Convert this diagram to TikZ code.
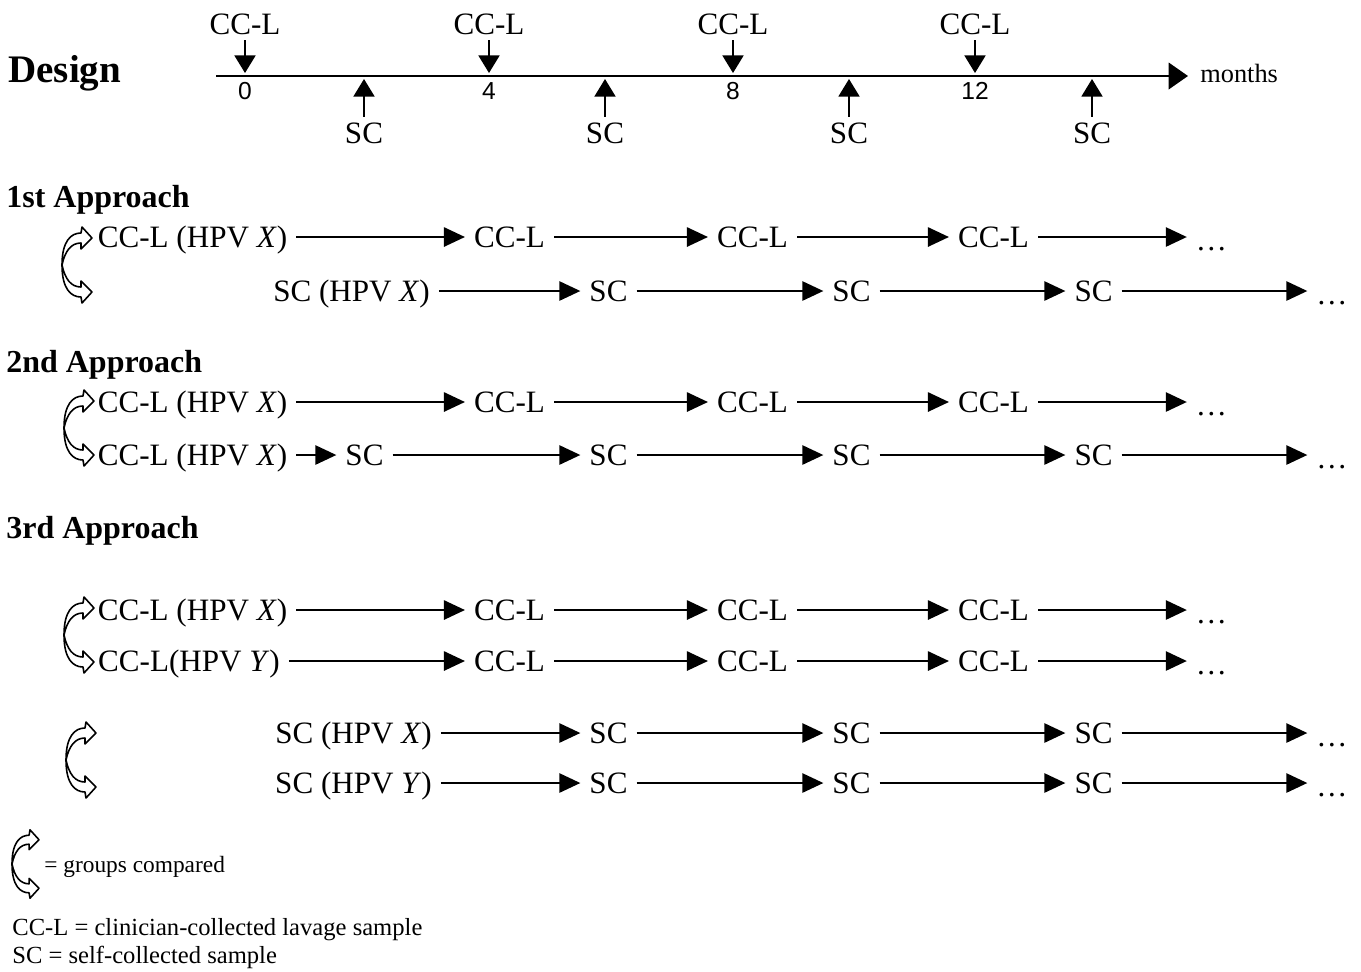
\documentclass[tikz,border=0pt]{standalone}
\usepackage{fontspec}
\setmainfont{Liberation Serif}
\newfontfamily\numfont{Liberation Sans}
\usetikzlibrary{arrows.meta}
\begin{document}
\begin{tikzpicture}[x=0.02cm,y=-0.02cm,
  lbl/.style={font=\fontsize{17.7}{21}\selectfont, inner xsep=5pt, inner ysep=0pt, text height=12pt, text depth=0pt},
  num/.style={font=\numfont\fontsize{14}{16}\selectfont, inner sep=0pt},
  head/.style={font=\bfseries\fontsize{18.2}{22}\selectfont, inner sep=0pt, anchor=base west},
  leg/.style={font=\fontsize{14}{17}\selectfont, inner sep=0pt, anchor=base west},
  arr/.style={line width=1.1pt, -{Triangle[length=12pt,width=11pt]}},
  tick/.style={line width=0.8pt, -{Triangle[length=10pt,width=12pt]}},
  axis/.style={line width=1.5pt, -{Triangle[length=11pt,width=15pt]}},
  cmp/.pic={
    \draw[line width=0.9pt, line join=round]
      (0,0) .. controls (0,-24) and (9,-32) .. (19,-32) -- (20,-38) -- (30,-27) -- (19,-16) -- (19,-22)
      .. controls (9,-22) and (3,-14) .. (0,0);
    \draw[line width=0.9pt, line join=round]
      (0,0) .. controls (0,24) and (9,32) .. (19,32) -- (20,38) -- (30,27) -- (19,16) -- (19,22)
      .. controls (9,22) and (3,14) .. (0,0);
  }
]
\useasboundingbox (0,0) rectangle (1361,971);

% ---------- Design timeline ----------
\node[font=\bfseries\fontsize{22.2}{26}\selectfont, inner sep=0pt, anchor=base west] (design) at (8,82) {Design};
\coordinate (ax0) at (216,76);
\coordinate (ax1) at (1188,76);
\draw[axis] (ax0) -- (ax1);
\node[font=\fontsize{15}{18}\selectfont, inner sep=0pt, anchor=west] (months) at (1200,73) {months};
\foreach \i/\x/\n in {0/245/0,1/489/4,2/733/8,3/975/12} {
  \node[lbl, inner ysep=3pt] (cc\i) at (\x,24) {CC-L};
  \coordinate (cm\i) at (\x,73);
  \draw[tick] (cc\i.south) -- (cm\i);
  \node[num] (n\i) at (\x,91) {\n};
}
\foreach \i/\x in {0/364,1/605,2/849,3/1092} {
  \node[lbl, inner ysep=3pt] (sc\i) at (\x,133) {SC};
  \coordinate (sm\i) at (\x,79);
  \draw[tick] (sc\i.north) -- (sm\i);
}

% ---------- headings ----------
\node[head] (h1) at (6,207) {1st Approach};
\node[head] (h2) at (6,372) {2nd Approach};
\node[head] (h3) at (6,538) {3rd Approach};

% ---------- first nodes of rows ----------
\node[lbl] (r1a) at (192.5,237) {CC-L (HPV \textit{X})};
\node[lbl] (r2a) at (351.5,291) {SC (HPV \textit{X})};
\node[lbl] (r3a) at (192.5,402) {CC-L (HPV \textit{X})};
\node[lbl] (r4x) at (192.5,455) {CC-L (HPV \textit{X})};
\node[lbl] (r4a) at (364.5,455) {SC};
\draw[arr] (r4x.east) -- (r4a.west);
\node[lbl] (r5a) at (192.5,610) {CC-L (HPV \textit{X})};
\node[lbl] (r6a) at (189,661) {CC-L(HPV \textit{Y})};
\node[lbl] (r7a) at (353.5,733) {SC (HPV \textit{X})};
\node[lbl] (r8a) at (353.5,783) {SC (HPV \textit{Y})};

% ---------- CC-L chains ----------
\foreach \r/\y in {1/237,3/402,5/610,6/661} {
  \node[lbl] (r\r b) at (509.5,\y) {CC-L};
  \node[lbl] (r\r c) at (752.5,\y) {CC-L};
  \node[lbl] (r\r d) at (993.5,\y) {CC-L};
  \node[lbl] (r\r e) at (1211.5,\y+3) {\dots};
  \draw[arr] (r\r a.east) -- (r\r b.west);
  \draw[arr] (r\r b.east) -- (r\r c.west);
  \draw[arr] (r\r c.east) -- (r\r d.west);
  \draw[arr] (r\r d.east) -- (r\r e.west |- r\r d.east);
}

% ---------- SC chains ----------
\foreach \r/\y in {2/291,4/455,7/733,8/783} {
  \node[lbl] (r\r b) at (608.5,\y) {SC};
  \node[lbl] (r\r c) at (851.5,\y) {SC};
  \node[lbl] (r\r d) at (1093.5,\y) {SC};
  \node[lbl] (r\r e) at (1332,\y+3) {\dots};
  \draw[arr] (r\r a.east) -- (r\r b.west);
  \draw[arr] (r\r b.east) -- (r\r c.west);
  \draw[arr] (r\r c.east) -- (r\r d.west);
  \draw[arr] (r\r d.east) -- (r\r e.west |- r\r d.east);
}

% ---------- comparison symbols ----------
\pic (g1) at (62,265) {cmp};
\pic (g2) at (64,428) {cmp};
\pic (g3) at (64,635) {cmp};
\pic (g4) at (66,760) {cmp};
\pic[scale=0.9] (g5) at (12,864) {cmp};

% ---------- legend ----------
\node[leg, font=\fontsize{13.3}{16}\selectfont] (l1) at (44,872) {= groups compared};
\node[leg] (l2) at (12,935) {CC-L = clinician-collected lavage sample};
\node[leg] (l3) at (12,963) {SC = self-collected sample};
\end{tikzpicture}
\end{document}
